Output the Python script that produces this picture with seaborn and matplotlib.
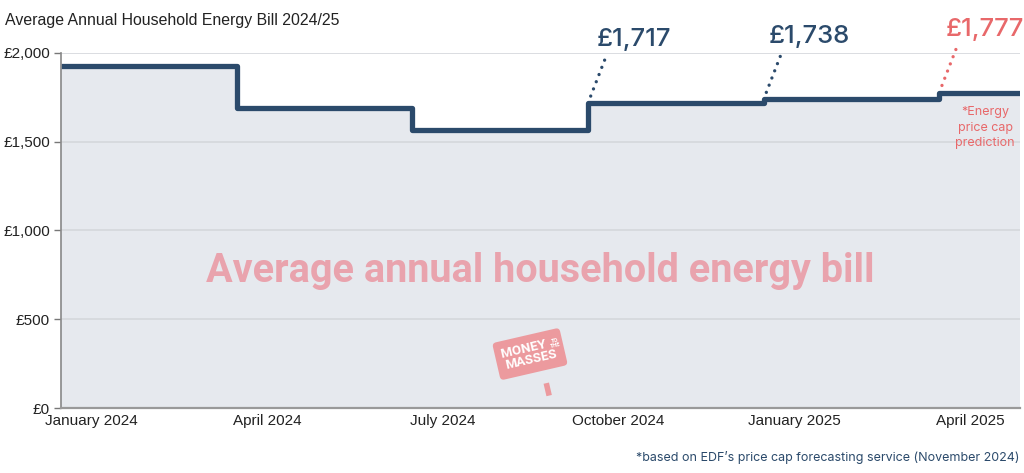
import matplotlib
matplotlib.use("Agg")
import matplotlib.pyplot as plt
import seaborn as sns
import pandas as pd
import numpy as np

# ---- data ----
periods = ["January 2024", "April 2024", "July 2024", "October 2024", "January 2025", "April 2025"]
bill_values = [1928, 1690, 1568, 1717, 1738, 1777]
annotated = {3: "£1,717", 4: "£1,738", 5: "£1,777"}
y_ticks = [0, 500, 1000, 1500, 2000]
y_labels = ["£0", "£500", "£1,000", "£1,500", "£2,000"]

NAVY = "#2b4a6b"
RED = "#e8686a"
FILL = "#e6e9ee"
PINK = "#ec9a9e"

sns.set_theme(style="white")
plt.rcParams["font.family"] = ["Liberation Sans", "DejaVu Sans"]

fig = plt.figure(figsize=(10.24, 4.73), dpi=100)
ax = fig.add_axes([0.0596, 0.1374, 0.9365, 0.7506])

x_end = 5.46
xs = list(range(len(bill_values))) + [x_end]
ys = bill_values + [bill_values[-1]]
df = pd.DataFrame({"x": xs, "y": ys})

ax.fill_between(df["x"], df["y"], 0, step="post", color=FILL, zorder=1, lw=0)
for yt in y_ticks[1:]:
    ax.axhline(yt, color="#d4d7db", lw=1.2, zorder=2)
sns.lineplot(data=df, x="x", y="y", drawstyle="steps-post", color=NAVY, lw=3.8,
             ax=ax, zorder=4, solid_joinstyle="round", solid_capstyle="butt")

ax.set_xlim(0, x_end)
ax.set_ylim(0, 2000)
ax.set_yticks(y_ticks)
ax.set_yticklabels(y_labels, fontsize=11, color="#222222")
ax.set_xticks([i + 0.175 for i in range(len(periods))])
ax.set_xticklabels(periods, fontsize=11, color="#222222")
ax.tick_params(axis="x", length=0, pad=4)
ax.tick_params(axis="y", length=5, width=1, color="#777777", pad=3, left=True)
ax.set_xlabel("")
ax.set_ylabel("")
for s in ["top", "right"]:
    ax.spines[s].set_visible(False)
ax.spines["left"].set_color("#888888")
ax.spines["left"].set_linewidth(1.2)
ax.spines["bottom"].set_color("#999999")
ax.spines["bottom"].set_linewidth(1.6)
ax.spines["left"].set_zorder(5)
ax.spines["bottom"].set_zorder(5)

# annotations
for i, label in annotated.items():
    col = RED if i == len(bill_values) - 1 else NAVY
    ax.annotate("", xy=(i, bill_values[i]), xytext=(12, 31), textcoords="offset points",
                arrowprops=dict(arrowstyle="-", ls=(0, (0.01, 2.3)), lw=2.4, color=col,
                                capstyle="round", shrinkA=0, shrinkB=5), zorder=3)
    ax.annotate(label, xy=(i, bill_values[i]), xytext=(33, 41), textcoords="offset points",
                ha="center", va="baseline", fontsize=18.5, color=col,
                family=["Inter", "DejaVu Sans"], fontweight="medium",
                annotation_clip=False)

ax.annotate("*Energy\nprice cap\nprediction", xy=(5, bill_values[5]), xytext=(33, -10),
            textcoords="offset points", ha="center", va="top", fontsize=9,
            color=RED, linespacing=1.35, family=["Inter", "DejaVu Sans"])

# watermark
ax.text(0.5, 0.385, "Average annual household energy bill", transform=ax.transAxes,
        ha="center", va="center", fontsize=28.5, fontweight="bold", color="#e9a3ad",
        family=["Roboto", "DejaVu Sans"], zorder=3)

# logo
ax.plot([0.506, 0.509], [0.07, 0.035], transform=ax.transAxes, color=PINK,
        lw=4, solid_capstyle="butt", zorder=3)
ax.text(0.489, 0.152, "MONEY   \nMASSES", transform=ax.transAxes, ha="center", va="center",
        rotation=13, fontsize=9.5, fontweight="bold", color="white", linespacing=0.9,
        family=["Roboto", "DejaVu Sans"],
        bbox=dict(boxstyle="round,pad=0.5,rounding_size=0.3", fc=PINK, ec="none"),
        zorder=3)
ax.text(0.5155, 0.183, "TO\nTHE", transform=ax.transAxes, ha="center", va="center",
        rotation=13, fontsize=4, fontweight="bold", color="white", linespacing=0.9,
        family=["Roboto", "DejaVu Sans"], zorder=3)

# title & footnote
fig.text(0.005, 0.957, "Average Annual Household Energy Bill 2024/25", ha="left",
         va="center", fontsize=11.4, color="#222222")
fig.text(0.996, 0.032, "*based on EDF\u2019s price cap forecasting service (November 2024)",
         ha="right", va="center", fontsize=9, color=NAVY, family=["Inter", "DejaVu Sans"])

fig.savefig("out.png", dpi=100)
